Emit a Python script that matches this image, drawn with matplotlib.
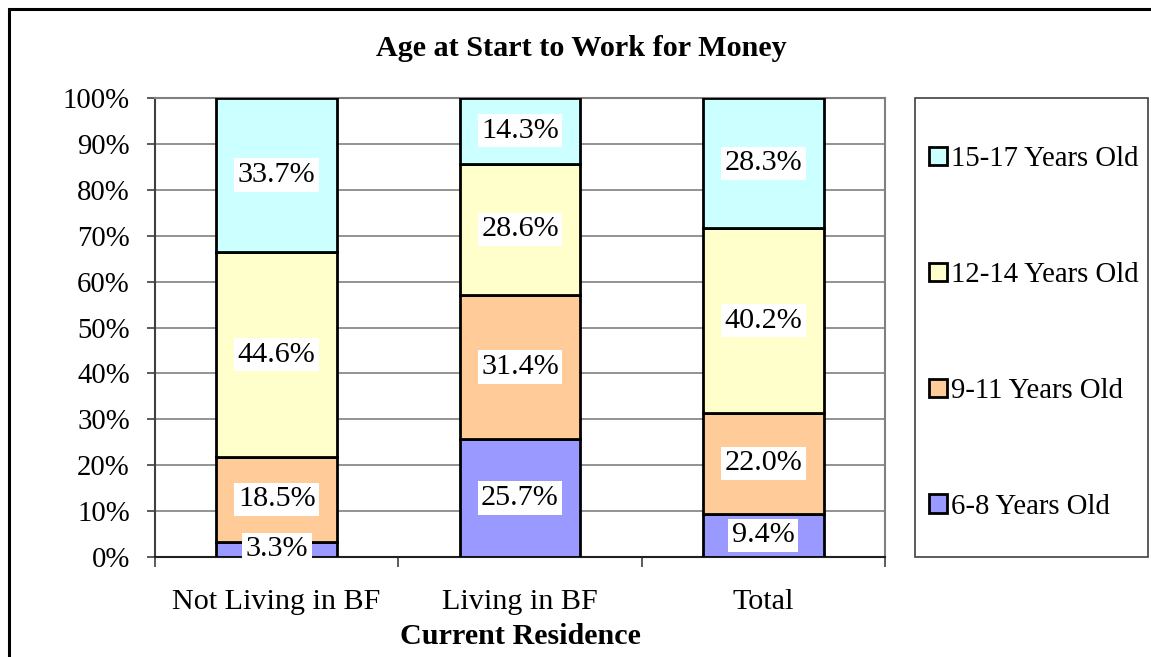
import numpy as np
import matplotlib
matplotlib.use('Agg')
import matplotlib.pyplot as plt
from matplotlib.patches import Rectangle

#%% Data
categories = ['Not Living in BF', 'Living in BF', 'Total']
series_names = ['6-8 Years Old', '9-11 Years Old', '12-14 Years Old', '15-17 Years Old']
age_6_8 = [3.3, 25.7, 9.4]
age_9_11 = [18.5, 31.4, 22.0]
age_12_14 = [44.6, 28.6, 40.2]
age_15_17 = [33.7, 14.3, 28.3]
ColorPalet = ['#9999FF', '#FFCC99', '#FFFFCC', '#CCFFFF']

#%% Settings
plt.rcParams['font.family'] = ['Liberation Serif', 'DejaVu Serif']
fs = 20.7      # tick / legend text
fs_big = 21.7  # data labels, category names, titles
gridcol = '#808080'

fig = plt.figure(figsize=(11.51, 6.57), dpi=100)
ax = fig.add_axes([155/1151, 1-557/657, 730/1151, 459/657])

x = np.arange(len(categories))
bottom = np.zeros(len(categories))
handles = []
for vals, name, col in zip([age_6_8, age_9_11, age_12_14, age_15_17], series_names, ColorPalet):
    bars = ax.bar(x, vals, 0.495, bottom=bottom, color=col, edgecolor='black',
                  linewidth=2, label=name, zorder=3)
    ax.bar_label(bars, labels=['%.1f%%' % v for v in vals], label_type='center',
                 fontsize=fs_big, zorder=4,
                 bbox=dict(boxstyle='square,pad=0.12', fc='white', ec='none'))
    bottom += np.array(vals)
    handles.append(bars)

ax.set_xlim(-0.5, 2.5)
ax.set_ylim(0, 100)
ax.set_yticks(np.arange(0, 101, 10))
ax.set_yticklabels(['%d%%' % v for v in range(0, 101, 10)])
ax.yaxis.grid(True, color=gridcol, linewidth=1.2, zorder=0)
ax.tick_params(axis='y', labelsize=fs, length=6, width=1.2, color='#404040', pad=12, direction='out')

# category boundaries as major ticks, labels on minor ticks
ax.set_xticks([-0.5, 0.5, 1.5, 2.5])
ax.set_xticklabels([])
ax.set_xticks(x, minor=True)
ax.set_xticklabels(categories, minor=True)
ax.tick_params(axis='x', which='major', length=7, width=1.2, color='#404040')
ax.tick_params(axis='x', which='minor', length=0, labelsize=fs_big, pad=23)
ax.set_xlabel('Current Residence', fontsize=fs_big, fontweight='bold', labelpad=6)

ax.spines['left'].set_color('#404040')
ax.spines['left'].set_linewidth(1.5)
ax.spines['bottom'].set_color('#202020')
ax.spines['bottom'].set_linewidth(1.5)
for s in ['top', 'right']:
    ax.spines[s].set_color(gridcol)
    ax.spines[s].set_linewidth(1.5)

fig.text(581.5/1151, 1-49/657, 'Age at Start to Work for Money', fontsize=fs_big,
         fontweight='bold', ha='center', va='center')

# legend box
fig.patches.append(Rectangle((915/1151, 1-557/657), 233/1151, 459/657,
                             transform=fig.transFigure, fill=False,
                             edgecolor='#404040', linewidth=1.2))
fig.legend(handles[::-1], series_names[::-1], loc='center left',
           bbox_to_anchor=(915/1151, 1-333/657), frameon=False, fontsize=fs,
           labelspacing=3.12, handlelength=0.6, handleheight=0.6,
           handletextpad=0.15, borderpad=0)

# outer frame
fig.patches.append(Rectangle((9/1151, -0.2), 1.2, 1.2 - 9/657,
                             transform=fig.transFigure, fill=False,
                             edgecolor='black', linewidth=2.2))

fig.savefig('out.png', dpi=100)
